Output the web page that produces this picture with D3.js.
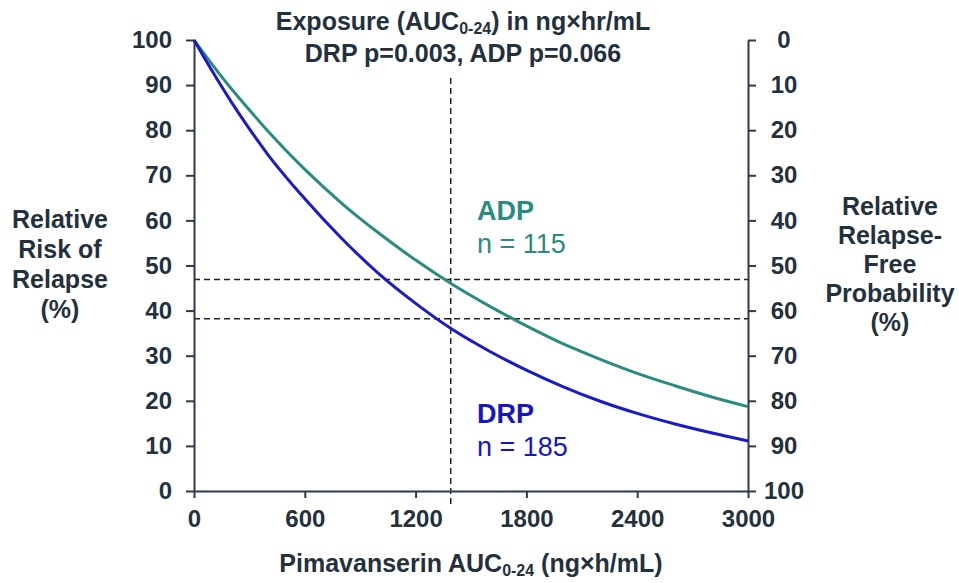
<!DOCTYPE html>
<html>
<head>
<meta charset="utf-8">
<script src="https://cdn.jsdelivr.net/npm/d3@7"></script>
<style>
  body { margin: 0; background: #fff; }
  svg { font-family: "Liberation Sans", Arial, sans-serif; }
  .axis path, .axis line { stroke: #2e3b47; stroke-width: 2; }
  .axis text { fill: #24313d; font-size: 24px; font-weight: bold; }
</style>
</head>
<body>
<svg width="959" height="583"></svg>
<script>
// AUC0-24 grid (ng×h/mL) the curves were read at
var auc = [0, 100, 200, 300, 400, 600, 800, 1000, 1200, 1400, 1600, 1800, 2000, 2200, 2400, 2600, 2800, 3000];
// relative risk of relapse (%)
var adpRisk = [100, 94.5, 89.3, 84.5, 79.8, 71.3, 63.8, 57.2, 51.2, 45.8, 41.0, 36.6, 32.6, 29.2, 26.1, 23.4, 20.9, 18.7];
var drpRisk = [100, 93.0, 86.4, 80.3, 74.6, 64.8, 56.0, 48.2, 41.6, 35.8, 31.0, 26.8, 23.1, 19.9, 17.2, 14.9, 12.9, 11.1];

var xTicks = [0, 600, 1200, 1800, 2400, 3000];
var yTicks = [0, 10, 20, 30, 40, 50, 60, 70, 80, 90, 100];

var medianAuc = 1390;        // vertical dashed reference
var refLevels = [46.9, 38.2]; // horizontal dashed references

var svg = d3.select("svg"),
    margin = { top: 40, right: 211, bottom: 92, left: 194 },
    width = +svg.attr("width") - margin.left - margin.right,
    height = +svg.attr("height") - margin.top - margin.bottom;

var x = d3.scaleLinear().domain([0, 3000]).range([0, width]);
var y = d3.scaleLinear().domain([0, 100]).range([height, 0]);
var y2 = d3.scaleLinear().domain([0, 100]).range([0, height]); // right axis, reversed

var g = svg.append("g").attr("transform", "translate(" + margin.left + "," + margin.top + ")");

// dashed reference lines
g.append("line")
    .attr("x1", x(medianAuc)).attr("x2", x(medianAuc))
    .attr("y1", 38).attr("y2", height + 14)
    .attr("stroke", "#222").attr("stroke-width", 1.5).attr("stroke-dasharray", "6,4");
g.selectAll(".hdash")
    .data(refLevels)
    .enter().append("line")
    .attr("class", "hdash")
    .attr("x1", 0).attr("x2", width)
    .attr("y1", function(d) { return y(d); })
    .attr("y2", function(d) { return y(d); })
    .attr("stroke", "#222").attr("stroke-width", 1.5).attr("stroke-dasharray", "6,4");

// axes
g.append("g").attr("class", "axis")
    .call(d3.axisLeft(y).tickValues(yTicks).tickSize(8).tickPadding(14).tickSizeOuter(0));
g.append("g").attr("class", "axis")
    .attr("transform", "translate(" + width + ",0)")
    .call(d3.axisRight(y2).tickValues(yTicks).tickSize(8).tickPadding(14).tickSizeOuter(0))
    .selectAll("text").attr("text-anchor", "middle").attr("x", 36);
g.append("g").attr("class", "axis")
    .attr("transform", "translate(0," + height + ")")
    .call(d3.axisBottom(x).tickValues(xTicks).tickFormat(d3.format("d")).tickSize(7).tickPadding(12).tickSizeOuter(0));

// curves
var line = d3.line()
    .x(function(d, i) { return x(auc[i]); })
    .y(function(d) { return y(d); })
    .curve(d3.curveMonotoneX);

g.append("path").datum(adpRisk)
    .attr("fill", "none").attr("stroke", "#2a8c7e").attr("stroke-width", 3)
    .attr("d", line);
g.append("path").datum(drpRisk)
    .attr("fill", "none").attr("stroke", "#1a1ac8").attr("stroke-width", 3)
    .attr("d", line);

// group labels
var labels = [
  { name: "ADP", n: "n = 115", color: "#2a8c7e", y: 220 },
  { name: "DRP", n: "n = 185", color: "#1616c0", y: 423 }
];
labels.forEach(function(l) {
  svg.append("text").attr("x", 477).attr("y", l.y)
      .attr("fill", l.color).attr("font-size", 27).attr("font-weight", "bold").text(l.name);
  svg.append("text").attr("x", 477).attr("y", l.y + 33)
      .attr("fill", l.color).attr("font-size", 27).text(l.n);
});

var txt = "#24313d";

// title
var t1 = svg.append("text").attr("x", 463).attr("y", 30)
    .attr("text-anchor", "middle").attr("fill", txt)
    .attr("font-size", 25).attr("font-weight", "bold");
t1.append("tspan").text("Exposure (AUC");
t1.append("tspan").attr("font-size", 16).attr("dy", 4).text("0-24");
t1.append("tspan").attr("dy", -4).text(") in ng×hr/mL");
svg.append("text").attr("x", 463).attr("y", 62)
    .attr("text-anchor", "middle").attr("fill", txt)
    .attr("font-size", 25).attr("font-weight", "bold")
    .text("DRP p=0.003, ADP p=0.066");

// x axis title
var xt = svg.append("text").attr("x", 471).attr("y", 572)
    .attr("text-anchor", "middle").attr("fill", txt)
    .attr("font-size", 25).attr("font-weight", "bold");
xt.append("tspan").text("Pimavanserin AUC");
xt.append("tspan").attr("font-size", 16).attr("dy", 4).text("0-24");
xt.append("tspan").attr("dy", -4).text(" (ng×h/mL)");

// left y title
var leftLines = ["Relative", "Risk of", "Relapse", "(%)"];
svg.append("g").selectAll("text")
    .data(leftLines)
    .enter().append("text")
    .attr("x", 60).attr("y", function(d, i) { return 228 + i * 30; })
    .attr("text-anchor", "middle").attr("fill", txt)
    .attr("font-size", 25).attr("font-weight", "bold")
    .text(function(d) { return d; });

// right y title
var rightLines = ["Relative", "Relapse-", "Free", "Probability", "(%)"];
svg.append("g").selectAll("text")
    .data(rightLines)
    .enter().append("text")
    .attr("x", 890).attr("y", function(d, i) { return 215 + i * 29; })
    .attr("text-anchor", "middle").attr("fill", txt)
    .attr("font-size", 25).attr("font-weight", "bold")
    .text(function(d) { return d; });
</script>
</body>
</html>
